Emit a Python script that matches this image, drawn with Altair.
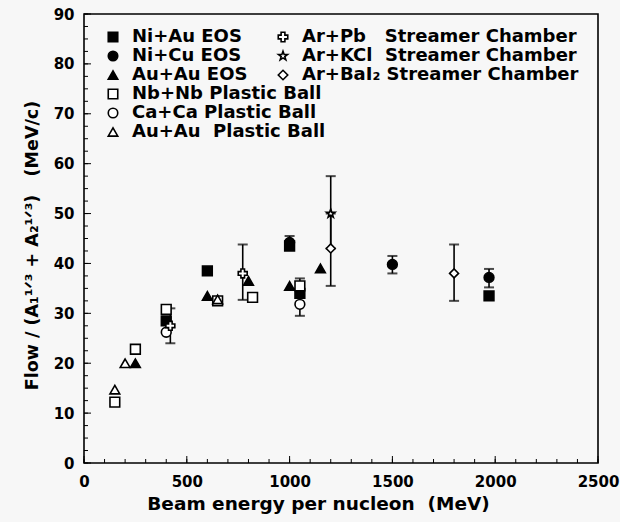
import altair as alt
import pandas as pd

# ---------------- data ----------------
eos_pb_series = ["Ni+Au EOS", "Ni+Cu EOS", "Au+Au EOS",
                 "Nb+Nb Plastic Ball", "Ca+Ca Plastic Ball", "Au+Au\u00a0\u00a0Plastic Ball"]
sc_series = ["Ar+Pb\u00a0\u00a0\u00a0Streamer Chamber", "Ar+KCl\u00a0\u00a0Streamer Chamber",
             "Ar+BaI\u2082 Streamer Chamber"]

ni_au_x = [400, 600, 1000, 1050, 1970]
ni_au_y = [28.5, 38.5, 43.5, 34.0, 33.5]
ni_cu_x = [1000, 1500, 1970]
ni_cu_y = [44.2, 39.8, 37.2]
au_eos_x = [250, 600, 800, 1000, 1150]
au_eos_y = [20.0, 33.5, 36.5, 35.5, 39.0]
nb_x = [150, 250, 400, 650, 820, 1050]
nb_y = [12.2, 22.8, 30.8, 32.5, 33.2, 35.5]
ca_x = [400, 1050]
ca_y = [26.2, 31.8]
au_pb_x = [150, 200, 650]
au_pb_y = [14.7, 20.0, 32.8]

ar_pb_x = [420, 772]
ar_pb_y = [27.5, 38.0]
ar_kcl_x = [1200]
ar_kcl_y = [50.0]
ar_bai_x = [1200, 1800]
ar_bai_y = [43.0, 38.0]

err_x = [420, 772, 1000, 1050, 1200, 1200, 1500, 1800, 1970]
err_lo = [24.0, 32.7, 42.8, 29.5, 43.0, 35.5, 38.0, 32.5, 35.2]
err_hi = [31.0, 43.8, 45.5, 37.0, 57.5, 50.0, 41.5, 43.8, 38.9]

x_ticks_major = [0, 500, 1000, 1500, 2000, 2500]
x_ticks_minor = list(range(0, 2501, 100))
y_ticks_major = [0, 10, 20, 30, 40, 50, 60, 70, 80, 90]
y_ticks_minor = [v * 2.5 for v in range(0, 37)]

# ---------------- tables ----------------
def table(name, xs, ys, field):
    return pd.DataFrame({"energy": xs, "flow": ys, field: [name] * len(xs)})

df_a = pd.concat([
    table(eos_pb_series[0], ni_au_x, ni_au_y, "series"),
    table(eos_pb_series[1], ni_cu_x, ni_cu_y, "series"),
    table(eos_pb_series[2], au_eos_x, au_eos_y, "series"),
    table(eos_pb_series[3], nb_x, nb_y, "series"),
    table(eos_pb_series[4], ca_x, ca_y, "series"),
    table(eos_pb_series[5], au_pb_x, au_pb_y, "series"),
], ignore_index=True)

df_b = pd.concat([
    table(sc_series[0], ar_pb_x, ar_pb_y, "series2"),
    table(sc_series[1], ar_kcl_x, ar_kcl_y, "series2"),
    table(sc_series[2], ar_bai_x, ar_bai_y, "series2"),
], ignore_index=True)

df_err = pd.DataFrame({"energy": err_x, "lo": err_lo, "hi": err_hi})

# ---------------- styling ----------------
FONT = "DejaVu Sans"
W, H = 514, 449
STAR = ("M0,-1L0.235,-0.324L0.951,-0.309L0.38,0.124L0.588,0.809L0,0.4"
        "L-0.588,0.809L-0.38,0.124L-0.951,-0.309L-0.235,-0.324Z")

xs = alt.Scale(domain=[0, 2500], nice=False, zero=False)
ys = alt.Scale(domain=[0, 90], nice=False)

x_axis = alt.Axis(title="Beam energy per nucleon\u00a0\u00a0(MeV)", values=x_ticks_major,
                  format="d", ticks=False, domain=False, grid=False, labelFlush=False,
                  labelFont=FONT, labelFontSize=15, labelFontWeight="bold",
                  labelColor="black", labelPadding=11,
                  titleFont=FONT, titleFontSize=18.5, titleFontWeight="bold",
                  titleColor="black", titlePadding=5, titleX=234, titleAnchor="middle")
y_axis = alt.Axis(title="Flow / (A\u2081\u00b9\u141f\u00b3 + A\u2082\u00b9\u141f\u00b3)\u00a0\u00a0\u00a0(MeV/c)",
                  values=y_ticks_major, ticks=False, domain=False, grid=False,
                  labelFont=FONT, labelFontSize=15, labelFontWeight="bold",
                  labelColor="black", labelPadding=10,
                  titleFont=FONT, titleFontSize=17.5, titleFontWeight="bold",
                  titleColor="black", titlePadding=12, titleY=231, titleAnchor="middle")

legend_common = dict(title=None, orient="none", labelFont=FONT, labelFontSize=18,
                     labelFontWeight="bold", labelColor="black", symbolStrokeColor="black",
                     symbolStrokeWidth=1.6, symbolSize=90, rowPadding=1, labelOffset=10,
                     padding=0, labelLimit=400)

X = lambda f: alt.X(f, scale=xs, axis=x_axis)
Y = lambda f: alt.Y(f, scale=ys, axis=y_axis)

# ---------------- layers ----------------
tick_x_minor = alt.Chart(pd.DataFrame({"v": x_ticks_minor})).mark_rule(color="black", strokeWidth=1).encode(
    x=X("v:Q"), y=alt.value(H), y2=alt.value(H - 4))
tick_x_major = alt.Chart(pd.DataFrame({"v": x_ticks_major})).mark_rule(color="black", strokeWidth=1).encode(
    x=X("v:Q"), y=alt.value(H), y2=alt.value(H - 7))
tick_y_minor = alt.Chart(pd.DataFrame({"v": y_ticks_minor})).mark_rule(color="black", strokeWidth=1).encode(
    y=Y("v:Q"), x=alt.value(0), x2=alt.value(4))
tick_y_major = alt.Chart(pd.DataFrame({"v": y_ticks_major})).mark_rule(color="black", strokeWidth=1).encode(
    y=Y("v:Q"), x=alt.value(0), x2=alt.value(7))

err_bar = alt.Chart(df_err).mark_rule(color="black", strokeWidth=1.6).encode(
    x=X("energy:Q"), y=Y("lo:Q"), y2="hi:Q")
cap_lo = alt.Chart(df_err).mark_tick(color="black", orient="horizontal", size=10, thickness=2).encode(
    x=X("energy:Q"), y=Y("lo:Q"))
cap_hi = alt.Chart(df_err).mark_tick(color="black", orient="horizontal", size=10, thickness=2).encode(
    x=X("energy:Q"), y=Y("hi:Q"))

leg_a = alt.Legend(legendX=20, legendY=14, **legend_common)
leg_b = alt.Legend(legendX=190, legendY=14, **legend_common)

pts_a = alt.Chart(df_a).mark_point(filled=True, strokeWidth=1.6, opacity=1, size=95).encode(
    x=X("energy:Q"), y=Y("flow:Q"),
    shape=alt.Shape("series:N", scale=alt.Scale(domain=eos_pb_series,
                    range=["square", "circle", "triangle-up", "square", "circle", "triangle-up"]),
                    legend=leg_a),
    fill=alt.Fill("series:N", scale=alt.Scale(domain=eos_pb_series,
                  range=["black", "black", "black", "white", "white", "white"]),
                  legend=leg_a),
    stroke=alt.Stroke("series:N", scale=alt.Scale(domain=eos_pb_series, range=["black"] * 6),
                      legend=leg_a),
)

pts_b = alt.Chart(df_b).mark_point(filled=True, strokeWidth=1.6, opacity=1, size=80).encode(
    x=X("energy:Q"), y=Y("flow:Q"),
    shape=alt.Shape("series2:N", scale=alt.Scale(domain=sc_series,
                    range=["cross", STAR, "diamond"]), legend=leg_b),
    fill=alt.Fill("series2:N", scale=alt.Scale(domain=sc_series,
                  range=["white", "white", "white"]), legend=leg_b),
    stroke=alt.Stroke("series2:N", scale=alt.Scale(domain=sc_series, range=["black"] * 3),
                      legend=leg_b),
)

chart = alt.layer(
    tick_x_minor, tick_x_major, tick_y_minor, tick_y_major,
    err_bar, cap_lo, cap_hi, pts_a, pts_b
).resolve_scale(shape="independent", fill="independent", stroke="independent").properties(
    width=W, height=H,
    autosize=alt.AutoSizeParams(type="none"),
    padding={"left": 84, "top": 14, "right": 22, "bottom": 59},
    background="#f7f7f7",
).configure_view(stroke="black", strokeWidth=1.6)

chart.save("out.html", embed_options={"renderer": "svg", "actions": False})
